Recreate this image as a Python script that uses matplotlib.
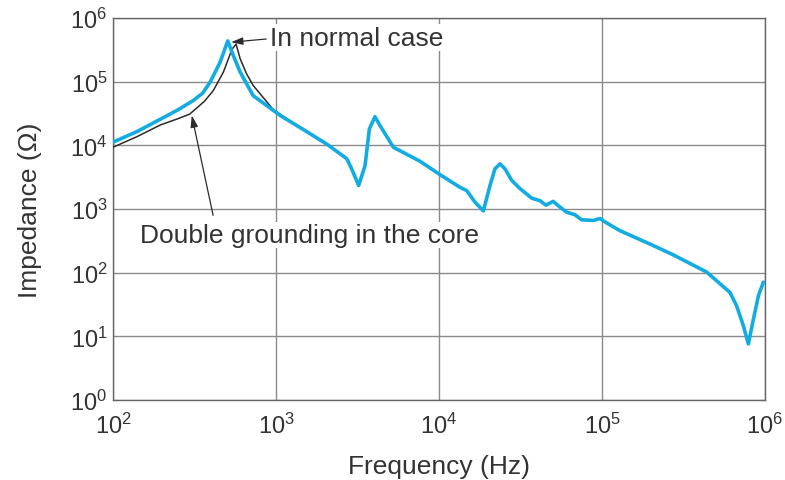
import numpy as np
import matplotlib
matplotlib.use("Agg")
import matplotlib.pyplot as plt

plt.rcParams['font.family'] = ['Liberation Sans', 'DejaVu Sans']
plt.rcParams['mathtext.fontset'] = 'custom'
plt.rcParams['mathtext.rm'] = 'Liberation Sans'
plt.rcParams['mathtext.it'] = 'Liberation Sans:italic'
plt.rcParams['mathtext.bf'] = 'Liberation Sans:bold'

# log10 values
grounded_logf = [2.0, 2.15, 2.29, 2.40, 2.49, 2.55, 2.595, 2.656, 2.704, 2.738,
                 2.78, 2.86, 3.025, 3.147, 3.311, 3.434, 3.464, 3.507, 3.546, 3.573,
                 3.607, 3.638, 3.72, 3.883, 4.006, 4.129, 4.17, 4.22, 4.272, 4.313,
                 4.343, 4.374, 4.405, 4.446, 4.497, 4.569, 4.62, 4.656, 4.70, 4.742,
                 4.783, 4.834, 4.875, 4.947, 4.988, 5.029, 5.11, 5.294, 5.437, 5.642,
                 5.785, 5.826, 5.867, 5.898, 5.929, 5.96, 5.99]
grounded_logz = [4.05, 4.22, 4.41, 4.56, 4.70, 4.82, 4.99, 5.30, 5.64, 5.41,
                 5.15, 4.78, 4.47, 4.28, 4.02, 3.79, 3.63, 3.37, 3.68, 4.26,
                 4.45, 4.31, 3.97, 3.75, 3.54, 3.34, 3.29, 3.11, 2.97, 3.37,
                 3.63, 3.71, 3.63, 3.45, 3.32, 3.17, 3.13, 3.06, 3.12, 3.03,
                 2.95, 2.91, 2.83, 2.82, 2.85, 2.78, 2.66, 2.45, 2.28, 2.01,
                 1.69, 1.48, 1.17, 0.88, 1.27, 1.64, 1.85]

normal_logf = [2.0, 2.15, 2.29, 2.40, 2.47, 2.56, 2.615, 2.677, 2.73, 2.755,
               2.78, 2.82, 2.86, 2.98, 3.07, 3.147]
normal_logz = [3.97, 4.14, 4.32, 4.42, 4.49, 4.69, 4.86, 5.15, 5.51, 5.59,
               5.36, 5.12, 4.94, 4.57, 4.41, 4.28]

f_g = 10 ** np.array(grounded_logf)
z_g = 10 ** np.array(grounded_logz)
f_n = 10 ** np.array(normal_logf)
z_n = 10 ** np.array(normal_logz)

txt = "#333333"
fig = plt.figure(figsize=(7.85, 4.81), dpi=100)
ax = fig.add_axes([0.144, 0.1663, 0.8305, 0.7942])

ax.plot(f_n, z_n, '-', color="#2b2b2b", lw=1.1, zorder=3)
ax.plot(f_g, z_g, '-', color="#12ace2", lw=2.6, zorder=4,
        solid_joinstyle='round', solid_capstyle='round')

ax.set_xscale('log')
ax.set_yscale('log')
ax.set_xlim(1e2, 1e6)
ax.set_ylim(1e0, 1e6)
ax.set_xticks([1e2, 1e3, 1e4, 1e5, 1e6])
ax.set_yticks([1e0, 1e1, 1e2, 1e3, 1e4, 1e5, 1e6])
ax.minorticks_off()
ax.grid(True, color="#8a8a8a", lw=1.0)
ax.tick_params(length=0, labelsize=17, labelcolor=txt)
ax.tick_params(axis='x', pad=9)
ax.tick_params(axis='y', pad=4)
for s in ax.spines.values():
    s.set_color("#666666")
    s.set_linewidth(1.0)

ax.set_xlabel("Frequency (Hz)", fontsize=19, color=txt, labelpad=12)
ax.set_ylabel("Impedance (Ω)", fontsize=19, color=txt, labelpad=20)

# annotations
ax.text(10 ** 2.963, 10 ** 5.69, "In normal case", fontsize=19, color=txt,
        ha='left', va='center', zorder=5,
        bbox=dict(facecolor='white', edgecolor='none', pad=1))
ax.annotate("", xy=(10 ** 2.724, 10 ** 5.62), xytext=(10 ** 2.94, 10 ** 5.67),
            arrowprops=dict(arrowstyle='-|>,head_length=0.7,head_width=0.22',
                            color="#2b2b2b", lw=0.9, shrinkA=0, shrinkB=0),
            zorder=6)

ax.text(10 ** 2.166, 10 ** 2.593, "Double grounding in the core", fontsize=19,
        color=txt, ha='left', va='center', zorder=5,
        bbox=dict(facecolor='white', edgecolor='none', pad=1))
ax.annotate("", xy=(10 ** 2.483, 10 ** 4.47), xytext=(10 ** 2.614, 10 ** 2.90),
            arrowprops=dict(arrowstyle='-|>,head_length=0.7,head_width=0.22',
                            color="#2b2b2b", lw=0.9, shrinkA=0, shrinkB=0),
            zorder=6)

fig.savefig("out.png", dpi=100)
plt.close(fig)
